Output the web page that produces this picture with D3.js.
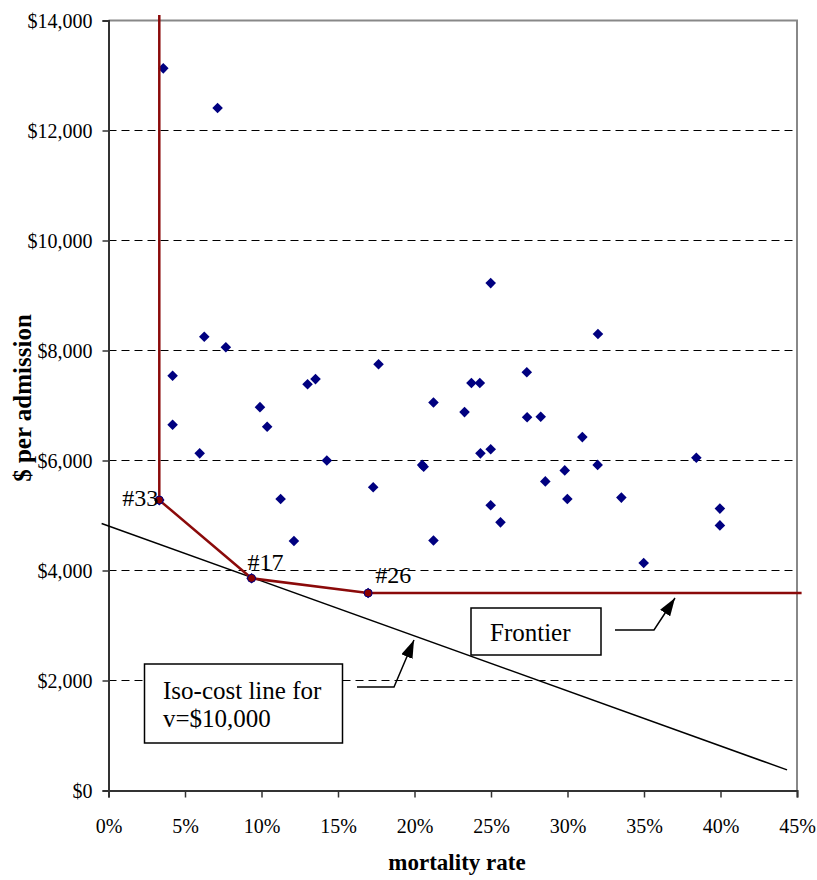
<!DOCTYPE html>
<html>
<head>
<meta charset="utf-8">
<script src="https://cdn.jsdelivr.net/npm/d3@7"></script>
<style>
  body { margin: 0; background: #fff; }
  svg text { font-family: "Liberation Serif", "Times New Roman", serif; fill: #000; }
</style>
</head>
<body>
<svg id="chart" width="817" height="880"></svg>
<script>
"use strict";

// hospitals: mortality rate (%) and cost per admission ($)
const mortality = [3.58, 7.13, 6.26, 7.67, 4.19, 13.01, 13.53, 17.65, 21.24, 9.90,
    4.19, 10.37, 5.96, 14.27, 20.5, 20.6, 17.3, 3.32, 11.25, 12.12,
    21.24, 9.35, 16.97, 24.98, 31.99, 27.34, 23.72, 24.27, 23.27, 27.36,
    28.25, 30.97, 24.31, 24.98, 38.42, 31.97, 29.82, 28.55, 29.99, 33.52,
    24.98, 25.62, 39.96, 39.96, 34.98];
const cost = [13130, 12410, 8250, 8060, 7540, 7385, 7480, 7750, 7055, 6970,
    6650, 6615, 6130, 6000, 5920, 5885, 5515, 5280, 5300, 4535,
    4545, 3858, 3590, 9225, 8300, 7605, 7410, 7410, 6880, 6785,
    6795, 6425, 6130, 6205, 6050, 5920, 5820, 5620, 5300, 5325,
    5185, 4875, 5125, 4820, 4135];

// efficient frontier
const frontierX = [3.32, 3.32, 9.35, 16.97, 45.3];
const frontierY = [14100, 5280, 3858, 3590, 3590];
const frontierNames = [null, "#33", "#17", "#26", null];

// iso-cost line for v = $10,000
const isoX = [-0.45, 44.35];
const isoY = [4855, 375];

const xTicks = [0, 5, 10, 15, 20, 25, 30, 35, 40, 45];
const yTicks = [0, 2000, 4000, 6000, 8000, 10000, 12000, 14000];

const svg = d3.select("#chart");

const plotLeft = 108.5, plotRight = 797, plotTop = 20.5, plotBottom = 790.5;

const xScale = d3.scaleLinear().domain([0, 45]).range([plotLeft, plotRight]);
const yScale = d3.scaleLinear().domain([0, 14000]).range([plotBottom, plotTop]);

// dashed gridlines
svg.append("g")
    .selectAll("line")
    .data(yTicks.filter((d) => d > 0 && d < 14000))
    .enter()
    .append("line")
    .attr("x1", plotLeft)
    .attr("x2", plotRight)
    .attr("y1", (d) => yScale(d))
    .attr("y2", (d) => yScale(d))
    .attr("stroke", "#000")
    .attr("stroke-width", 1)
    .attr("stroke-dasharray", "8,5");

// plot border (top, right)
svg.append("path")
    .attr("d", `M${plotLeft},${plotTop}H${plotRight}V${plotBottom}`)
    .attr("fill", "none")
    .attr("stroke", "#888")
    .attr("stroke-width", 2);

// axes
const yAxis = svg.append("g")
    .attr("transform", `translate(${plotLeft},0)`)
    .call(d3.axisLeft(yScale).tickValues(yTicks).tickFormat(d3.format("$,")).tickSize(6).tickPadding(10));
const xAxis = svg.append("g")
    .attr("transform", `translate(0,${plotBottom})`)
    .call(d3.axisBottom(xScale).tickValues(xTicks).tickFormat((d) => d + "%").tickSize(7).tickPadding(21));

for (const ax of [yAxis, xAxis]) {
    ax.select(".domain").attr("stroke", "#333").attr("stroke-width", 2);
    ax.selectAll(".tick line").attr("stroke", "#333").attr("stroke-width", 1.5);
    ax.selectAll(".tick text")
        .attr("font-family", "Liberation Serif")
        .attr("font-size", 20)
        .attr("fill", "#000");
}
yAxis.selectAll(".tick text").attr("dy", "0.33em");

// hospital points
const diamond = d3.symbol().type(d3.symbolSquare).size(56);
svg.append("g")
    .selectAll("path")
    .data(mortality.map((m, i) => ({ m: m, c: cost[i] })))
    .enter()
    .append("path")
    .attr("d", diamond)
    .attr("transform", (d) => `translate(${xScale(d.m)},${yScale(d.c)}) rotate(45)`)
    .attr("fill", "#000080");

// iso-cost line
svg.append("line")
    .attr("x1", xScale(isoX[0]))
    .attr("y1", yScale(isoY[0]))
    .attr("x2", xScale(isoX[1]))
    .attr("y2", yScale(isoY[1]))
    .attr("stroke", "#000")
    .attr("stroke-width", 1.5);

// frontier
const frontier = frontierX.map((x, i) => ({ x: x, y: frontierY[i], name: frontierNames[i] }));
svg.append("path")
    .datum(frontier)
    .attr("d", d3.line().x((d) => xScale(d.x)).y((d) => yScale(d.y)))
    .attr("fill", "none")
    .attr("stroke", "#8b0a0a")
    .attr("stroke-width", 2.5);

const named = frontier.filter((d) => d.name);
svg.append("g")
    .selectAll("circle")
    .data(named)
    .enter()
    .append("circle")
    .attr("cx", (d) => xScale(d.x))
    .attr("cy", (d) => yScale(d.y))
    .attr("r", 4)
    .attr("fill", "#8b0000")
    .attr("stroke", "#000080")
    .attr("stroke-width", 1);

// point labels
const labelOffset = { "#33": [-1, 6, "end"], "#17": [-4, -8, "start"], "#26": [7, -10, "start"] };
svg.append("g")
    .selectAll("text")
    .data(named)
    .enter()
    .append("text")
    .attr("x", (d) => xScale(d.x) + labelOffset[d.name][0])
    .attr("y", (d) => yScale(d.y) + labelOffset[d.name][1])
    .attr("text-anchor", (d) => labelOffset[d.name][2])
    .attr("font-size", 24)
    .text((d) => d.name);

// annotation boxes with arrows
svg.append("defs")
    .append("marker")
    .attr("id", "arrow")
    .attr("viewBox", "0 0 18 12")
    .attr("refX", 18)
    .attr("refY", 6)
    .attr("markerWidth", 18)
    .attr("markerHeight", 12)
    .attr("markerUnits", "userSpaceOnUse")
    .attr("orient", "auto")
    .append("path")
    .attr("d", "M0,0L18,6L0,12Z")
    .attr("fill", "#000");

function callout(box, lines, arrow) {
    const g = svg.append("g");
    g.append("rect")
        .attr("x", box[0])
        .attr("y", box[1])
        .attr("width", box[2])
        .attr("height", box[3])
        .attr("fill", "#fff")
        .attr("stroke", "#000")
        .attr("stroke-width", 1.5);
    lines.forEach((t) => {
        g.append("text")
            .attr("x", t[1])
            .attr("y", t[2])
            .attr("font-size", 25)
            .text(t[0]);
    });
    g.append("path")
        .attr("d", d3.line()(arrow))
        .attr("fill", "none")
        .attr("stroke", "#000")
        .attr("stroke-width", 1.5)
        .attr("marker-end", "url(#arrow)");
}

callout([471, 608, 130, 47], [["Frontier", 490, 641]],
    [[615, 630], [654, 630], [675, 598]]);
callout([144.5, 664, 198, 79], [["Iso-cost line for", 163, 699], ["v=$10,000", 163, 727]],
    [[357, 687], [394, 687], [414, 640]]);

// axis titles
svg.append("text")
    .attr("x", 457)
    .attr("y", 870)
    .attr("text-anchor", "middle")
    .attr("font-size", 23)
    .attr("font-weight", "bold")
    .text("mortality rate");

svg.append("text")
    .attr("transform", "translate(31,398) rotate(-90)")
    .attr("text-anchor", "middle")
    .attr("font-size", 25)
    .attr("font-weight", "bold")
    .text("$ per admission");
</script>
</body>
</html>
